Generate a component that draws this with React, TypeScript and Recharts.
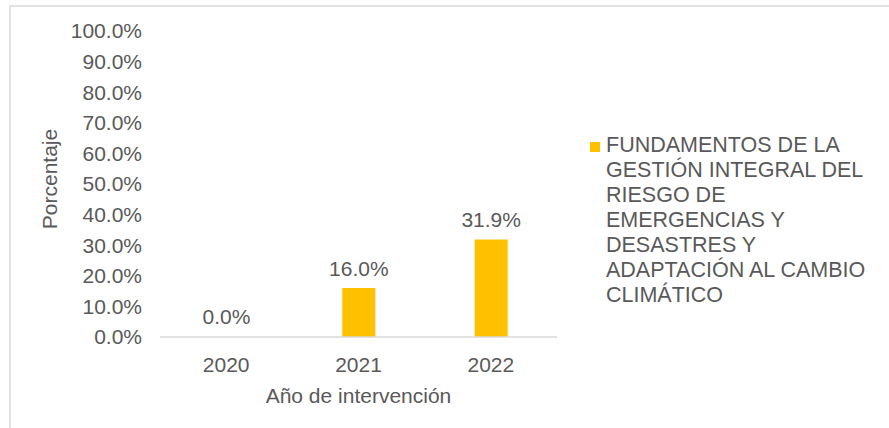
import React from 'react';
import { BarChart, Bar, XAxis, YAxis, LabelList, Legend, Label, Cell } from 'recharts';

const years = ['2020', '2021', '2022'];
const percentages = [0.0, 16.0, 31.9];
const yTicks = [0, 10, 20, 30, 40, 50, 60, 70, 80, 90, 100];
const seriesName =
  'FUNDAMENTOS DE LA GESTIÓN INTEGRAL DEL RIESGO DE EMERGENCIAS Y DESASTRES Y ADAPTACIÓN AL CAMBIO CLIMÁTICO';
const legendLines = [
  'FUNDAMENTOS DE LA',
  'GESTIÓN INTEGRAL DEL',
  'RIESGO DE',
  'EMERGENCIAS Y',
  'DESASTRES Y',
  'ADAPTACIÓN AL CAMBIO',
  'CLIMÁTICO',
];
const xTitle = 'Año de intervención';
const yTitle = 'Porcentaje';

const data = years.map((year, i) => ({ year, value: percentages[i] }));

const FONT = '"Liberation Sans", Arial, Helvetica, sans-serif';
const TEXT = '#595959';
const BAR = '#FFC000';

const fmt = (v: number) => `${Number(v).toFixed(1)}%`;

const renderLegend = (props: any) => {
  const payload = props.payload || [];
  return (
    <div style={{ fontFamily: FONT }}>
      {payload.map((p: any, idx: number) => (
        <div key={idx} style={{ position: 'relative', paddingLeft: 18 }}>
          <span
            style={{
              position: 'absolute',
              left: 2,
              top: 9,
              width: 10,
              height: 10,
              background: BAR,
            }}
          />
          {legendLines.map((line, j) => (
            <div key={j} style={{ fontSize: 21.5, lineHeight: '25px', color: TEXT, whiteSpace: 'nowrap' }}>
              {line}
            </div>
          ))}
        </div>
      ))}
    </div>
  );
};

const YTitle = (props: any) => {
  const vb = props.viewBox || {};
  const cx = 57;
  const cy = (vb.y ?? 31) + (vb.height ?? 306) / 2 - 5;
  return (
    <text
      x={cx}
      y={cy}
      transform={`rotate(-90 ${cx} ${cy})`}
      textAnchor="middle"
      fill={TEXT}
      fontSize={21}
      fontFamily={FONT}
    >
      {yTitle}
    </text>
  );
};

export default function App() {
  return (
    <div
      style={{
        position: 'absolute',
        left: 0,
        top: 0,
        width: 889,
        height: 428,
        overflow: 'hidden',
        background: '#ffffff',
      }}
    >
      <div
        style={{
          position: 'absolute',
          left: 9,
          top: 5,
          width: 920,
          height: 460,
          border: '2px solid #e2e2e2',
          boxSizing: 'border-box',
        }}
      />
      <div style={{ position: 'absolute', left: 0, top: 0 }}>
        <BarChart
          width={889}
          height={428}
          data={data}
          margin={{ top: 31, right: 332, bottom: 0, left: 0 }}
          style={{ fontFamily: FONT }}
        >
          <XAxis
            dataKey="year"
            height={91}
            axisLine={{ stroke: '#d9d9d9', strokeWidth: 1.5 }}
            tickLine={false}
            tickSize={0}
            tickMargin={20}
            tick={{ fill: TEXT, fontSize: 21, fontFamily: FONT }}
          >
            <Label
              value={xTitle}
              position="insideBottom"
              offset={25}
              fill={TEXT}
              fontSize={21}
              fontFamily={FONT}
            />
          </XAxis>
          <YAxis
            width={160}
            domain={[0, 100]}
            ticks={yTicks}
            interval={0}
            axisLine={false}
            tickLine={false}
            tickSize={0}
            tickMargin={18}
            tickFormatter={fmt}
            tick={{ fill: TEXT, fontSize: 21, fontFamily: FONT }}
          >
            <Label content={<YTitle />} />
          </YAxis>
          <Legend
            layout="vertical"
            align="center"
            verticalAlign="middle"
            content={renderLegend}
            wrapperStyle={{ left: 588, top: 133, width: 300 }}
          />
          <Bar
            dataKey="value"
            name={seriesName}
            fill={BAR}
            barSize={33}
            minPointSize={1}
            isAnimationActive={false}
          >
            {data.map((d, i) => (
              <Cell key={i} fill={d.value === 0 ? 'transparent' : BAR} />
            ))}
            <LabelList
              dataKey="value"
              position="top"
              offset={12}
              formatter={fmt}
              fill={TEXT}
              fontSize={21}
              fontFamily={FONT}
            />
          </Bar>
        </BarChart>
      </div>
    </div>
  );
}
